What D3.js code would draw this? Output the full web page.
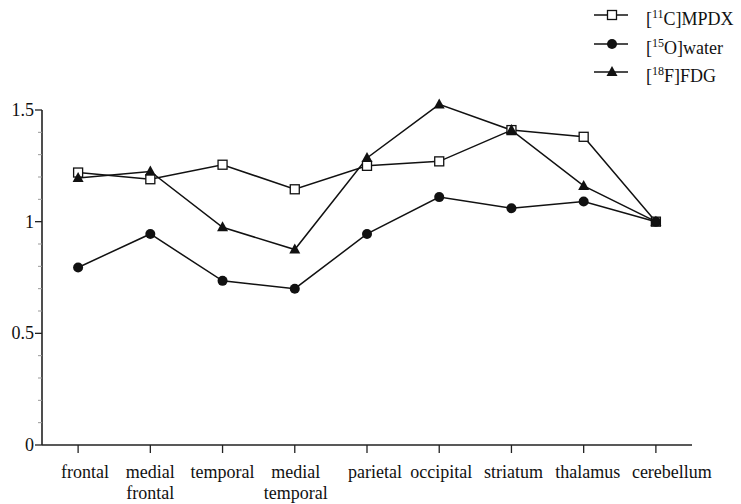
<!DOCTYPE html>
<html>
<head>
<meta charset="utf-8">
<script src="https://cdn.jsdelivr.net/npm/d3@7"></script>
<style>
  body { margin: 0; background: #fff; }
</style>
</head>
<body>
<svg id="chart" width="741" height="504" font-family="'Liberation Serif', 'DejaVu Serif', 'Times New Roman', serif"></svg>
<script>
const regions = ["frontal", "medial frontal", "temporal", "medial temporal", "parietal", "occipital", "striatum", "thalamus", "cerebellum"];
const mpdx = [1.22, 1.19, 1.255, 1.145, 1.25, 1.27, 1.41, 1.38, 1.0];
const water = [0.795, 0.945, 0.735, 0.70, 0.945, 1.11, 1.06, 1.09, 1.0];
const fdg = [1.195, 1.225, 0.975, 0.875, 1.285, 1.525, 1.41, 1.16, 1.0];
const yTicks = [0, 0.5, 1, 1.5];
const yTickLabels = ["0", "0.5", "1", "1.5"];

const serif = "'Liberation Serif', 'DejaVu Serif', serif";
// labels in the original are nudged off their ticks a little
const labelShift = [7, 0, 0, 1, 8, 2, 2, 4, 16];

const svg = d3.select("#chart");
const x = d3.scalePoint().domain(regions).range([42, 692]).padding(0.5);
const y = d3.scaleLinear().domain([0, 1.5]).range([445, 110]);

// axes
const ink = "#222";
svg.append("line").attr("x1", 42).attr("x2", 692).attr("y1", y(0)).attr("y2", y(0))
  .attr("stroke", ink).attr("stroke-width", 1.6);
svg.append("line").attr("x1", 42).attr("x2", 42).attr("y1", y(0)).attr("y2", y(1.5))
  .attr("stroke", ink).attr("stroke-width", 1.6);

// minor y ticks
svg.selectAll(".minor").data(d3.range(1, 15).map(i => i / 10).filter(v => Math.abs(v * 2 - Math.round(v * 2)) > 1e-6))
  .enter().append("line")
  .attr("x1", 38).attr("x2", 42)
  .attr("y1", d => y(d)).attr("y2", d => y(d))
  .attr("stroke", "#999").attr("stroke-width", 1);

const yg = svg.append("g");
yTicks.forEach((t, i) => {
  yg.append("line").attr("x1", 35).attr("x2", 42).attr("y1", y(t)).attr("y2", y(t))
    .attr("stroke", ink).attr("stroke-width", 1.3);
  yg.append("text").attr("x", 34).attr("y", y(t)).attr("dy", "0.33em")
    .attr("font-family", serif)
    .attr("text-anchor", "end").attr("font-size", 18).attr("fill", "#111").text(yTickLabels[i]);
});

const xg = svg.append("g");
regions.forEach((r, i) => {
  xg.append("line").attr("x1", x(r)).attr("x2", x(r)).attr("y1", y(0)).attr("y2", y(0) + 8)
    .attr("stroke", ink).attr("stroke-width", 1.3);
  const words = r.split(" ");
  const t = xg.append("text").attr("text-anchor", "middle").attr("font-size", 18)
    .attr("font-family", serif).attr("fill", "#111");
  words.forEach((w, j) => {
    t.append("tspan").attr("x", x(r) + labelShift[i]).attr("y", 478 + j * 21).text(w);
  });
});

// series lines
const series = [
  { name: "mpdx", values: mpdx, marker: "square" },
  { name: "water", values: water, marker: "circle" },
  { name: "fdg", values: fdg, marker: "triangle" }
];
const line = d3.line().x((d, i) => x(regions[i])).y(d => y(d));
series.forEach(s => {
  svg.append("path").datum(s.values).attr("d", line)
    .attr("fill", "none").attr("stroke", "#111").attr("stroke-width", 1.5);
});

function drawMarker(g, type, cx, cy) {
  if (type === "square") {
    g.append("rect").attr("x", cx - 4.5).attr("y", cy - 4.5).attr("width", 9).attr("height", 9)
      .attr("fill", "#fff").attr("stroke", "#111").attr("stroke-width", 1.3);
  } else if (type === "circle") {
    g.append("circle").attr("cx", cx).attr("cy", cy).attr("r", 5).attr("fill", "#111");
  } else {
    g.append("path").attr("d", `M${cx},${cy - 6}L${cx + 5.5},${cy + 4}L${cx - 5.5},${cy + 4}Z`)
      .attr("fill", "#111");
  }
}

const mg = svg.append("g");
series.forEach(s => {
  s.values.forEach((v, i) => drawMarker(mg, s.marker, x(regions[i]), y(v)));
});

// legend
const legendRows = [
  { marker: "square", sup: "11", rest: "C]MPDX", y: 15 },
  { marker: "circle", sup: "15", rest: "O]water", y: 44 },
  { marker: "triangle", sup: "18", rest: "F]FDG", y: 72 }
];
const lg = svg.append("g");
legendRows.forEach(r => {
  lg.append("line").attr("x1", 594).attr("x2", 628).attr("y1", r.y).attr("y2", r.y)
    .attr("stroke", "#111").attr("stroke-width", 1.6);
  drawMarker(lg, r.marker, 612, r.y);
  const t = lg.append("text").attr("x", 646).attr("y", r.y + 10).attr("font-size", 18)
    .attr("font-family", serif).attr("fill", "#111");
  t.append("tspan").text("[");
  t.append("tspan").attr("font-size", 12).attr("dy", -7).text(r.sup);
  t.append("tspan").attr("dy", 7).text(r.rest);
});
</script>
</body>
</html>
